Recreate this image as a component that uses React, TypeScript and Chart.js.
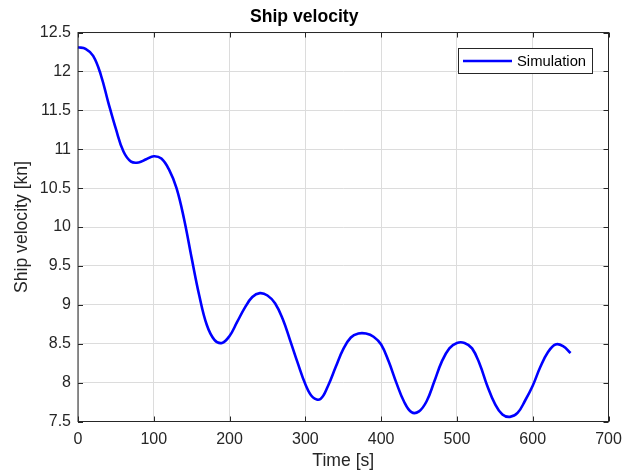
import React, { useEffect, useRef } from "react";
import { Chart, registerables } from "chart.js";

Chart.register(...registerables);

const times = [
  0, 10, 20, 30, 40, 50, 60, 70, 80, 90, 100, 110, 120, 130, 140, 150, 160, 170, 180, 190,
  200, 210, 220, 230, 240, 250, 260, 270, 280, 290, 300, 310, 320, 330, 340, 350, 360, 370,
  380, 390, 400, 410, 420, 430, 440, 450, 460, 470, 480, 490, 500, 510, 520, 530, 540, 550,
  560, 570, 580, 590, 600, 610, 620, 630, 640, 650,
];
const velocity = [
  12.31, 12.29, 12.2, 11.96, 11.6, 11.26, 10.97, 10.84, 10.83, 10.87, 10.91, 10.88, 10.74,
  10.5, 10.1, 9.6, 9.12, 8.74, 8.55, 8.51, 8.6, 8.78, 8.96, 9.1, 9.15, 9.12, 9.02, 8.82,
  8.54, 8.25, 7.98, 7.81, 7.79, 7.96, 8.2, 8.43, 8.58, 8.63, 8.63, 8.59, 8.49, 8.27, 8.0,
  7.76, 7.62, 7.63, 7.76, 8.01, 8.27, 8.44, 8.51, 8.51, 8.44, 8.24, 7.96, 7.73, 7.59, 7.56,
  7.61, 7.77, 7.96, 8.2, 8.39, 8.49, 8.47, 8.38,
];
const xTicks = [0, 100, 200, 300, 400, 500, 600, 700];
const yTicks = [7.5, 8, 8.5, 9, 9.5, 10, 10.5, 11, 11.5, 12, 12.5];
const seriesLabel = "Simulation";
const titleText = "Ship velocity";
const xLabel = "Time [s]";
const yLabel = "Ship velocity [kn]";

const FONT = "Arial, 'Liberation Sans', Helvetica, sans-serif";
const AXIS_COLOR = "#262626";

const boxPlugin = {
  id: "matlabBox",
  afterDatasetsDraw(chart: any) {
    const { ctx, chartArea } = chart;
    const { left, right, top, bottom } = chartArea;
    ctx.save();
    ctx.strokeStyle = AXIS_COLOR;
    ctx.lineWidth = 1;
    const tl = 5;
    const xs = chart.scales.x;
    const ys = chart.scales.y;
    ctx.beginPath();
    xs.ticks.forEach((t: any) => {
      const px = Math.round(xs.getPixelForValue(t.value)) + 0.5;
      ctx.moveTo(px, bottom);
      ctx.lineTo(px, bottom - tl);
      ctx.moveTo(px, top);
      ctx.lineTo(px, top + tl);
    });
    ys.ticks.forEach((t: any) => {
      const py = Math.round(ys.getPixelForValue(t.value)) + 0.5;
      ctx.moveTo(left, py);
      ctx.lineTo(left + tl, py);
      ctx.moveTo(right, py);
      ctx.lineTo(right - tl, py);
    });
    ctx.stroke();
    ctx.strokeRect(left, top, right - left, bottom - top);

    // legend
    const ds = chart.data.datasets[0];
    const bx = 458.5, by = 48.5, bw = 134, bh = 25;
    ctx.fillStyle = "#ffffff";
    ctx.fillRect(bx, by, bw, bh);
    ctx.strokeStyle = AXIS_COLOR;
    ctx.lineWidth = 1;
    ctx.strokeRect(bx, by, bw, bh);
    ctx.strokeStyle = ds.borderColor;
    ctx.lineWidth = 2.4;
    ctx.beginPath();
    ctx.moveTo(463, 61);
    ctx.lineTo(512, 61);
    ctx.stroke();
    ctx.fillStyle = "#000000";
    ctx.font = `14.8px ${FONT}`;
    ctx.textBaseline = "middle";
    ctx.textAlign = "left";
    ctx.fillText(ds.label, 517, 61.5);
    ctx.restore();
  },
};

export default function App() {
  const ref = useRef<HTMLCanvasElement | null>(null);
  useEffect(() => {
    document.body.style.margin = "0";
    if (!ref.current) return;
    const chart = new Chart(ref.current, {
      type: "line",
      data: {
        datasets: [
          {
            label: seriesLabel,
            data: times.map((t, i) => ({ x: t, y: velocity[i] })),
            borderColor: "#0000ff",
            borderWidth: 2.6,
            pointRadius: 0,
            fill: false,
            tension: 0.4,
            clip: false,
          },
        ],
      },
      options: {
        animation: false,
        responsive: false,
        layout: { padding: { top: 0, right: 25.5, bottom: 0, left: 0 } },
        plugins: {
          legend: { display: false },
          tooltip: { enabled: false },
          title: {
            display: true,
            text: titleText,
            color: "#000000",
            font: { family: FONT, size: 17.6, weight: "bold", lineHeight: 1.2 },
            padding: { top: 6.5, bottom: 4.9 },
          },
        },
        scales: {
          x: {
            type: "linear",
            min: 0,
            max: 700,
            afterBuildTicks: (s: any) => {
              s.ticks = xTicks.map((v) => ({ value: v }));
            },
            afterFit: (s: any) => {
              s.height = 52.5;
            },
            grid: {
              color: "#dcdcdc",
              lineWidth: 1,
              drawTicks: false,
              tickLength: 0,
            },
            border: { display: false },
            ticks: {
              color: AXIS_COLOR,
              font: { family: FONT, size: 16 },
              padding: 8,
              maxRotation: 0,
              autoSkip: false,
            },
            title: {
              display: true,
              text: xLabel,
              color: AXIS_COLOR,
              font: { family: FONT, size: 17.6, lineHeight: 1.2 },
              padding: { top: 0, bottom: 2.5 },
            },
          },
          y: {
            type: "linear",
            min: 7.5,
            max: 12.5,
            afterBuildTicks: (s: any) => {
              s.ticks = yTicks.map((v) => ({ value: v }));
            },
            afterFit: (s: any) => {
              s.width = 78;
            },
            grid: {
              color: "#dcdcdc",
              lineWidth: 1,
              drawTicks: false,
              tickLength: 0,
            },
            border: { display: false },
            ticks: {
              color: AXIS_COLOR,
              font: { family: FONT, size: 16 },
              padding: 7,
              autoSkip: false,
              callback: (v: any) => String(v),
            },
            title: {
              display: true,
              text: yLabel,
              color: AXIS_COLOR,
              font: { family: FONT, size: 17.6, lineHeight: 1.2 },
              padding: { top: 11.5, bottom: 0 },
            },
          },
        },
      },
      plugins: [boxPlugin],
    });
    return () => chart.destroy();
  }, []);
  return (
    <div style={{ width: 634, height: 474, background: "#ffffff" }}>
      <canvas ref={ref} width={634} height={474} style={{ display: "block" }} />
    </div>
  );
}
